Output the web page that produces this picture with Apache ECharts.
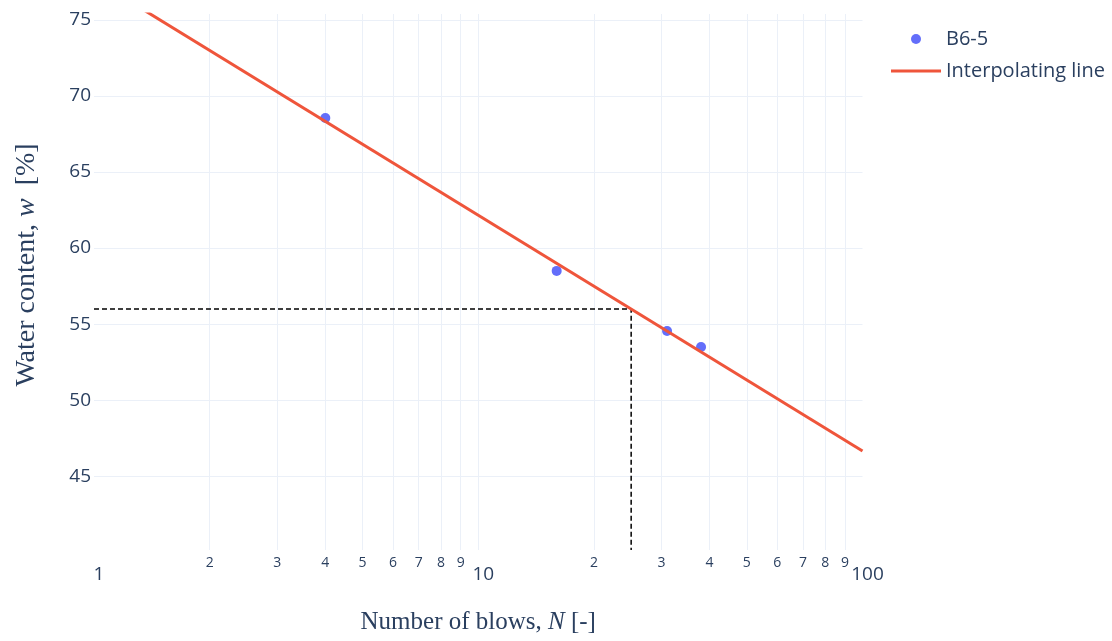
<!DOCTYPE html>
<html>
<head>
<meta charset="utf-8">
<script src="https://cdn.jsdelivr.net/npm/echarts@6/dist/echarts.min.js"></script>
<style>
html,body{margin:0;padding:0;background:#fff;}
#chart{width:1112px;height:641px;}
</style>
</head>
<body>
<div id="chart"></div>
<script>
// ---- data ----
const blowsN = [4, 16, 31, 38];
const waterW = [68.55, 58.5, 54.55, 53.5];
const fitN = [1, 100];
const fitW = [77.65, 46.66];
const liquidLimitN = 25;
const liquidLimitW = 56;
const yTicks = [45, 50, 55, 60, 65, 70, 75];
const xGridTicks = [2, 3, 4, 5, 6, 7, 8, 9, 10, 20, 30, 40, 50, 60, 70, 80, 90];
const xLabelTicks = [1, 2, 3, 4, 5, 6, 7, 8, 9, 10, 20, 30, 40, 50, 60, 70, 80, 90, 100];
const yMin = 40.16, yMax = 75.38, xMin = 1, xMax = 100;

const TXT = '#2a3f5f';
const GRID = '#ebf0f8';
const FONT = '"Open Sans", sans-serif';
const SERIF = '"Liberation Serif", serif';

const chart = echarts.init(document.getElementById('chart'), null, {renderer: 'canvas'});

const scatterData = blowsN.map((n, i) => [n, waterW[i]]);
const fitData = fitN.map((n, i) => [n, fitW[i]]);
const guideData = [[xMin, liquidLimitW], [liquidLimitN, liquidLimitW], [liquidLimitN, yMin]];

function xLabelFmt(v) {
  const n = Math.round(v);
  if (n === 1 || n === 10 || n === 100) return '{big|' + n + '}';
  return '{small|' + String(n).charAt(0) + '}';
}

chart.setOption({
  animation: false,
  backgroundColor: '#fff',
  grid: {left: 94, right: 249.5, top: 14, bottom: 91, containLabel: false},
  legend: {
    orient: 'vertical',
    left: 886,
    top: 23,
    itemWidth: 50,
    itemHeight: 10,
    itemGap: 10,
    data: [
      {name: 'B6-5', icon: 'circle'},
      {name: 'Interpolating line', icon: 'path://M0,0H50V3H0Z'}
    ],
    textStyle: {color: TXT, fontFamily: FONT, fontSize: 20, lineHeight: 22},
    selectedMode: false
  },
  xAxis: {
    type: 'log',
    logBase: 10,
    min: xMin,
    max: xMax,
    name: '{t|Number of blows, }{i|N}{t| [-]}',
    nameLocation: 'middle',
    nameGap: 60,
    nameTextStyle: {
      rich: {
        t: {fontFamily: SERIF, fontSize: 25, color: TXT},
        i: {fontFamily: SERIF, fontSize: 25, fontStyle: 'italic', color: TXT}
      }
    },
    axisLine: {show: false},
    axisTick: {show: false, customValues: xGridTicks},
    splitLine: {show: true, lineStyle: {color: GRID, width: 1}},
    axisLabel: {
      customValues: xLabelTicks,
      margin: 6,
      formatter: xLabelFmt,
      hideOverlap: false,
      rich: {
        small: {fontFamily: FONT, fontSize: 14, color: TXT},
        big: {fontFamily: FONT, fontSize: 19, color: TXT, padding: [9, 0, 0, 10]}
      }
    }
  },
  yAxis: {
    type: 'value',
    min: yMin,
    max: yMax,
    name: '{s|Water content, }{i|w}{p|[%]}',
    nameLocation: 'middle',
    nameGap: 53,
    nameRotate: 90,
    nameTextStyle: {
      rich: {
        s: {fontFamily: SERIF, fontSize: 28, color: TXT, padding: [0, 0, 0, 34]},
        i: {fontFamily: SERIF, fontSize: 28, fontStyle: 'italic', color: TXT},
        p: {fontFamily: SERIF, fontSize: 28, color: TXT, padding: [0, 0, 0, 13]}
      }
    },
    axisLine: {show: false},
    axisTick: {show: false, customValues: yTicks},
    splitLine: {show: true, lineStyle: {color: GRID, width: 1}},
    axisLabel: {
      customValues: yTicks,
      margin: 3,
      color: TXT,
      fontFamily: FONT,
      fontSize: 19
    }
  },
  series: [
    {
      name: 'guide',
      type: 'line',
      data: guideData,
      symbol: 'none',
      z: 3,
      lineStyle: {color: '#000', width: 1.5, type: [5, 3]},
      silent: true
    },
    {
      name: 'B6-5',
      type: 'scatter',
      data: scatterData,
      symbol: 'circle',
      symbolSize: 10,
      z: 4,
      itemStyle: {color: '#636efa', opacity: 1}
    },
    {
      name: 'Interpolating line',
      type: 'line',
      data: fitData,
      symbol: 'none',
      clip: true,
      z: 5,
      lineStyle: {color: '#ef553b', width: 3},
      itemStyle: {color: '#ef553b'}
    }
  ]
});
</script>
</body>
</html>
